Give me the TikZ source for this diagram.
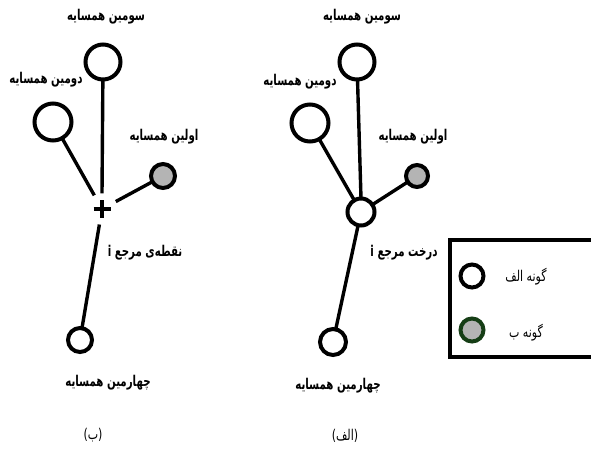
\documentclass[tikz,border=0pt]{standalone}
\usepackage{fontspec}
\usepackage{xcolor}
\usetikzlibrary{arrows}
\TeXXeTstate=1
\newfontfamily\fafont[Script=Arabic]{DejaVu Sans}
\definecolor{nbrgray}{RGB}{180,180,180}
\definecolor{keygreen}{RGB}{22,62,22}
\newcommand{\fa}[1]{\fafont\beginR #1\endR}

\begin{document}
\begin{tikzpicture}[x=1pt,y=-1pt]
\useasboundingbox (0,0) rectangle (591,451);
\begin{scope}[line width=3.4pt,
    nbr/.style={circle,draw=black,line width=4pt,fill=white,inner sep=0pt,outer sep=0pt},
    grey/.style={nbr,fill=nbrgray},
    refpt/.style={circle,minimum size=28pt,inner sep=0pt},
    lbl/.style={font=\fafont\bfseries\fontsize{11}{12}\selectfont,inner sep=1pt,
        xscale=0.93,yscale=1.35,transform shape},
    captxt/.style={font=\fafont\fontsize{11}{13}\selectfont,inner sep=1pt,
        yscale=1.35,transform shape}]

    % (b): reference point
    \node[nbr,minimum size=35pt] (thirdB) at (103,62) {};
    \node[nbr,minimum size=37pt] (secondB) at (53,122) {};
    \node[grey,minimum size=24pt] (firstB) at (163,176) {};
    \node[nbr,minimum size=24pt] (fourthB) at (80,340) {};
    \node[refpt] (refB) at (102,209) {};
    \draw[line width=3.8pt] (refB.center) +(-8.5,0) -- +(8.5,0);
    \draw[line width=3.8pt] (refB.center) +(0,-9) -- +(0,9);

    \draw (thirdB) -- (refB.center |- refB.north);
    \draw (secondB) -- (refB);
    \draw (firstB) -- (refB);
    \draw (fourthB) -- (refB);

    \node[lbl] (thirdBlbl) at (106,17) {\fa{سومین همسایه}};
    \node[lbl] (secondBlbl) at (46,80) {\fa{دومین همسایه}};
    \node[lbl] (firstBlbl) at (164,137) {\fa{اولین همسایه}};
    \node[lbl] (refBlbl) at (145,253) {\fa{نقطه‌ی مرجع \beginL i\endL}};
    \node[lbl] (fourthBlbl) at (108,383) {\fa{چهارمین همسایه}};
    \node[captxt] (capB) at (93,435) {\fa{(ب)}};

    % (a): reference tree
    \node[nbr,minimum size=35pt] (thirdA) at (357,62) {};
    \node[nbr,minimum size=37pt] (secondA) at (310,123) {};
    \node[grey,minimum size=22pt] (firstA) at (417,176) {};
    \node[nbr,minimum size=26pt] (fourthA) at (333,342) {};
    \node[nbr,minimum size=27pt] (refA) at (361,212) {};

    \draw (thirdA) -- (refA.center |- refA.north);
    \draw (secondA) -- (refA);
    \draw (firstA) -- (refA);
    \draw (fourthA) -- (refA);

    \node[lbl] (thirdAlbl) at (362,17) {\fa{سومین همسایه}};
    \node[lbl] (secondAlbl) at (300,82) {\fa{دومین همسایه}};
    \node[lbl] (firstAlbl) at (413,137) {\fa{اولین همسایه}};
    \node[lbl] (refAlbl) at (404,253) {\fa{درخت مرجع \beginL i\endL}};
    \node[lbl] (fourthAlbl) at (338,386) {\fa{چهارمین همسایه}};
    \node[captxt] (capA) at (345,436) {\fa{(الف)}};

    % key
    \draw[line width=4pt] (450,240) rectangle (600,357);
    \node[nbr,minimum size=23pt] (keyA) at (472,276) {};
    \node[grey,draw=keygreen,minimum size=23pt] (keyB) at (472,330) {};
    \node[captxt] (keyAlbl) at (526,277) {\fa{گونه الف}};
    \node[captxt] (keyBlbl) at (526,333) {\fa{گونه ب}};

\end{scope}
\end{tikzpicture}
\end{document}
